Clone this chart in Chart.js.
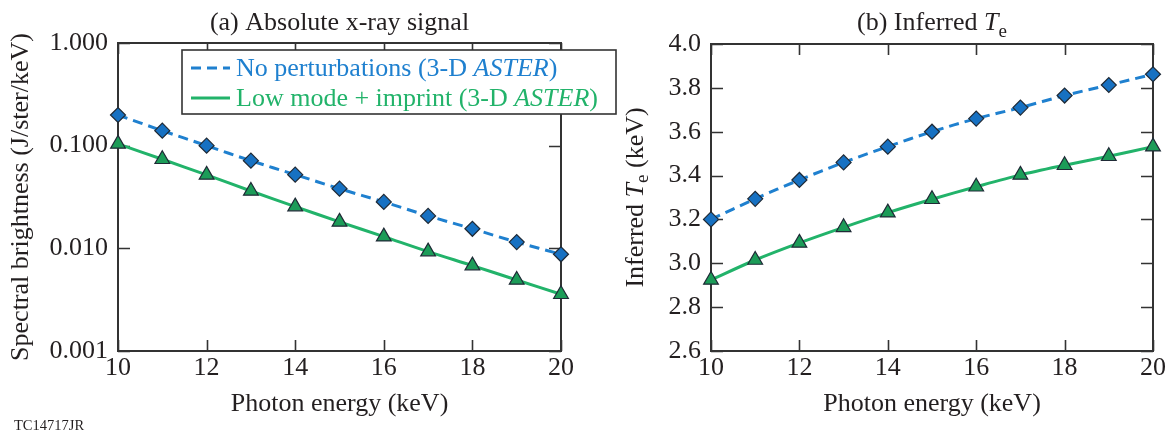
<!DOCTYPE html>
<html>
<head>
<meta charset="utf-8">
<script src="https://cdn.jsdelivr.net/npm/chart.js@4.4.1/dist/chart.umd.min.js"></script>
<style>
  body { margin: 0; background: #fff; width: 1173px; height: 434px; position: relative; overflow: hidden; }
  canvas { position: absolute; top: 0; }
  #right { left: 600px; z-index: 1; }
  #left { left: 0; z-index: 2; }
</style>
</head>
<body>
<canvas id="right" width="573" height="434"></canvas>
<canvas id="left" width="640" height="434"></canvas>
<script>
// photon energy (keV)
const energy = [10, 11, 12, 13, 14, 15, 16, 17, 18, 19, 20];
// (a) spectral brightness, J/ster/keV
const brightNoPert = [0.199, 0.140, 0.100, 0.0714, 0.0522, 0.0381, 0.0283, 0.0207, 0.0155, 0.0115, 0.00875];
const brightLowMode = [0.104, 0.0737, 0.0519, 0.0362, 0.0255, 0.0181, 0.0130, 0.00929, 0.00679, 0.00492, 0.00357];
// (b) inferred Te, keV
const teNoPert = [3.20, 3.294, 3.38, 3.46, 3.532, 3.60, 3.66, 3.71, 3.765, 3.813, 3.862];
const teLowMode = [2.924, 3.015, 3.093, 3.164, 3.231, 3.292, 3.349, 3.403, 3.447, 3.488, 3.532];

const xTicks = [10, 12, 14, 16, 18, 20];
const logTicks = [0.001, 0.01, 0.1, 1];
const teTicks = [2.6, 2.8, 3.0, 3.2, 3.4, 3.6, 3.8, 4.0];
const seriesNames = ['No perturbations', 'Low mode + imprint'];

const FONT = '"Liberation Serif", "DejaVu Serif", serif';
const TEXT_SIZE = 26;
const INK = '#231f20';
const BLUE_LINE = '#1f80cf';
const BLUE_FILL = '#1771c2';
const GREEN_LINE = '#22b36a';
const GREEN_FILL = '#1c9c58';
const EDGE = '#1f2a36';

// draws a run of text pieces: {t, i (italic), s (subscript)}
function richText(ctx, parts, x, y, size, align) {
  const fontOf = p => `${p.i ? 'italic ' : ''}${p.s ? Math.round(size * 0.72) : size}px ${FONT}`;
  let total = 0;
  parts.forEach(p => { ctx.font = fontOf(p); p.w = ctx.measureText(p.t).width; total += p.w; });
  let cx = align === 'center' ? x - total / 2 : x;
  ctx.textAlign = 'left';
  parts.forEach(p => {
    ctx.font = fontOf(p);
    ctx.fillText(p.t, cx, y + (p.s ? size * 0.28 : 0));
    cx += p.w;
  });
}

function toPoints(ys) {
  return energy.map((x, i) => ({ x, y: ys[i] }));
}

// box round the plot, ticks pointing inwards on all four sides
const framePlugin = {
  id: 'frame',
  beforeDatasetsDraw(chart) {
    const { ctx, chartArea: a, scales } = chart;
    ctx.save();
    ctx.strokeStyle = '#333';
    ctx.lineWidth = 1.6;
    scales.x.ticks.forEach(t => {
      const px = Math.round(scales.x.getPixelForValue(t.value)) + 0.5;
      ctx.beginPath();
      ctx.moveTo(px, a.bottom); ctx.lineTo(px, a.bottom - 11);
      ctx.moveTo(px, a.top); ctx.lineTo(px, a.top + 11);
      ctx.stroke();
    });
    scales.y.ticks.forEach(t => {
      const py = Math.round(scales.y.getPixelForValue(t.value)) + 0.5;
      ctx.beginPath();
      ctx.moveTo(a.left, py); ctx.lineTo(a.left + 12, py);
      ctx.moveTo(a.right, py); ctx.lineTo(a.right - 12, py);
      ctx.stroke();
    });
    ctx.lineWidth = 2;
    ctx.strokeRect(a.left, a.top, a.right - a.left, a.bottom - a.top);
    ctx.restore();
  }
};

function decoPlugin(opts) {
  return {
    id: 'deco',
    afterDraw(chart) {
      const { ctx, chartArea: a } = chart;
      const cx = (a.left + a.right) / 2;
      ctx.save();
      ctx.fillStyle = INK;
      ctx.textBaseline = 'alphabetic';
      richText(ctx, opts.title, cx, 30, TEXT_SIZE, 'center');
      richText(ctx, [{ t: 'Photon energy (keV)' }], cx, 411, TEXT_SIZE, 'center');
      ctx.save();
      ctx.translate(opts.yTitleX, (a.top + a.bottom) / 2);
      ctx.rotate(-Math.PI / 2);
      ctx.textBaseline = 'middle';
      richText(ctx, opts.yTitle, 0, 0, TEXT_SIZE, 'center');
      ctx.restore();
      if (opts.legend) drawLegend(chart);
      if (opts.tag) {
        ctx.fillStyle = INK;
        ctx.textBaseline = 'alphabetic';
        ctx.textAlign = 'left';
        ctx.font = `14.5px ${FONT}`;
        ctx.fillText(opts.tag, 14, 430);
      }
      ctx.restore();
    }
  };
}

function drawLegend(chart) {
  const { ctx } = chart;
  const box = { x: 182, y: 50, w: 434, h: 64 };
  ctx.fillStyle = '#fff';
  ctx.fillRect(box.x, box.y, box.w, box.h);
  ctx.strokeStyle = '#333';
  ctx.lineWidth = 1.6;
  ctx.strokeRect(box.x, box.y, box.w, box.h);
  chart.data.datasets.forEach((ds, i) => {
    const rowY = box.y + 18 + i * 30;
    ctx.strokeStyle = ds.borderColor;
    ctx.lineWidth = 3;
    ctx.setLineDash(ds.borderDash || []);
    ctx.beginPath();
    ctx.moveTo(box.x + 9, rowY);
    ctx.lineTo(box.x + 48, rowY);
    ctx.stroke();
    ctx.setLineDash([]);
    ctx.fillStyle = ds.borderColor;
    ctx.textBaseline = 'middle';
    richText(ctx, [{ t: ds.label + ' (3-D ' }, { t: 'ASTER', i: true }, { t: ')' }], box.x + 54, rowY + 1, TEXT_SIZE, 'left');
  });
}

function seriesStyle(kind) {
  if (kind === 'blue') {
    return {
      borderColor: BLUE_LINE, borderDash: [10, 6], borderWidth: 3,
      pointStyle: 'rectRot', pointRadius: 7.5,
      pointBackgroundColor: BLUE_FILL, pointBorderColor: EDGE, pointBorderWidth: 1.2,
      tension: 0.3, clip: false
    };
  }
  return {
    borderColor: GREEN_LINE, borderWidth: 3,
    pointStyle: 'triangle', pointRadius: 8.5,
    pointBackgroundColor: GREEN_FILL, pointBorderColor: EDGE, pointBorderWidth: 1.2,
    tension: 0.3, clip: false
  };
}

function xScale() {
  return {
    type: 'linear', min: 10, max: 20,
    afterBuildTicks: s => { s.ticks = xTicks.map(v => ({ value: v })); },
    afterFit: s => { s.height = 83; },
    grid: { display: false, drawTicks: false },
    border: { display: false },
    ticks: { font: { family: FONT, size: TEXT_SIZE }, color: INK, padding: 2, maxRotation: 0 }
  };
}

function baseOptions(pad, yScale) {
  return {
    responsive: false,
    animation: false,
    events: [],
    layout: { padding: pad },
    plugins: { legend: { display: false }, tooltip: { enabled: false }, title: { display: false } },
    scales: { x: xScale(), y: yScale }
  };
}

// (a) absolute x-ray signal
new Chart(document.getElementById('left'), {
  type: 'line',
  data: {
    datasets: [
      { label: seriesNames[0], data: toPoints(brightNoPert), ...seriesStyle('blue') },
      { label: seriesNames[1], data: toPoints(brightLowMode), ...seriesStyle('green') }
    ]
  },
  options: baseOptions({ top: 43, right: 79, bottom: 0, left: 0 }, {
    type: 'logarithmic', min: 0.001, max: 1,
    afterBuildTicks: s => { s.ticks = logTicks.map(v => ({ value: v })); },
    afterFit: s => { s.width = 118; },
    grid: { display: false, drawTicks: false },
    border: { display: false },
    ticks: { font: { family: FONT, size: TEXT_SIZE }, color: INK, padding: 10, callback: v => Number(v).toFixed(3) }
  }),
  plugins: [framePlugin, decoPlugin({
    title: [{ t: '(a) Absolute x-ray signal' }],
    yTitle: [{ t: 'Spectral brightness (J/ster/keV)' }],
    yTitleX: 21,
    legend: true,
    tag: 'TC14717JR'
  })]
});

// (b) inferred Te
new Chart(document.getElementById('right'), {
  type: 'line',
  data: {
    datasets: [
      { label: seriesNames[0], data: toPoints(teNoPert), ...seriesStyle('blue') },
      { label: seriesNames[1], data: toPoints(teLowMode), ...seriesStyle('green') }
    ]
  },
  options: baseOptions({ top: 44, right: 20, bottom: 0, left: 0 }, {
    type: 'linear', min: 2.6, max: 4.0,
    afterBuildTicks: s => { s.ticks = teTicks.map(v => ({ value: v })); },
    afterFit: s => { s.width = 111; },
    grid: { display: false, drawTicks: false },
    border: { display: false },
    ticks: { font: { family: FONT, size: TEXT_SIZE }, color: INK, padding: 10, callback: v => Number(v).toFixed(1) }
  }),
  plugins: [framePlugin, decoPlugin({
    title: [{ t: '(b) Inferred ' }, { t: 'T', i: true }, { t: 'e', s: true }],
    yTitle: [{ t: 'Inferred ' }, { t: 'T', i: true }, { t: 'e', s: true }, { t: ' (keV)' }],
    yTitleX: 36
  })]
});
</script>
</body>
</html>
